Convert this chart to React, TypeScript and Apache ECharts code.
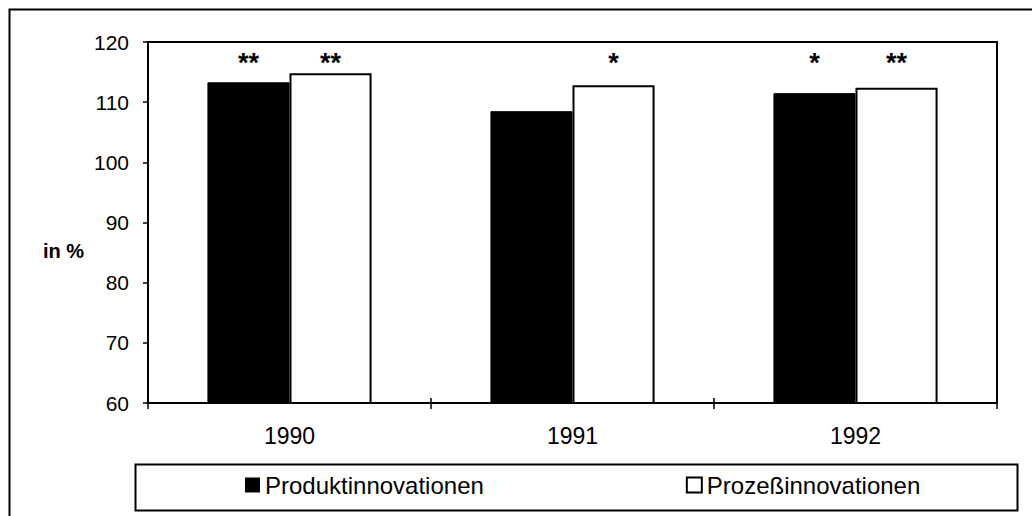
import React, { useEffect, useRef } from 'react';
import * as echarts from 'echarts';

const years = ['1990', '1991', '1992'];
const produkt = [113.3, 108.5, 111.5];
const prozess = [114.8, 112.8, 112.4];
const produktStars = ['**', '', '*'];
const prozessStars = ['**', '*', '**'];
const starLevel = 117.5;
const yMin = 60;
const yMax = 120;
const yStep = 10;
const seriesNames = ['Produktinnovationen', 'Prozeßinnovationen'];
const yUnit = 'in %';

const FONT = '"Liberation Sans", Arial, sans-serif';

function starMarks(stars: string[]) {
  return {
    symbol: 'rect',
    symbolSize: 1,
    itemStyle: { color: 'rgba(0,0,0,0)' },
    label: {
      show: true,
      position: 'inside',
      formatter: '{b}',
      color: '#000',
      fontFamily: FONT,
      fontWeight: 'bold',
      fontSize: 27,
      offset: [0, 6],
    },
    data: stars
      .map((s, i) => (s ? { name: s, coord: [years[i], starLevel] } : null))
      .filter(Boolean),
  };
}

export default function App() {
  const ref = useRef<HTMLDivElement>(null);
  useEffect(() => {
    document.body.style.margin = '0';
    const chart = echarts.init(ref.current!, null, { renderer: 'svg' });
    chart.setOption({
      animation: false,
      backgroundColor: '#fff',
      textStyle: { fontFamily: FONT },
      grid: {
        left: 148,
        right: 35,
        top: 42,
        bottom: 113,
        show: true,
        borderColor: '#000',
        borderWidth: 2,
        backgroundColor: 'transparent',
      },
      xAxis: [
        {
          type: 'category',
          data: years,
          axisLine: { lineStyle: { color: '#000', width: 2 } },
          axisTick: { show: true, length: 6, lineStyle: { color: '#000', width: 1.5 } },
          axisLabel: { color: '#000', fontSize: 23, margin: 21, fontFamily: FONT },
          splitLine: { show: false },
        },
        {
          type: 'category',
          data: years,
          position: 'bottom',
          axisLine: { show: false },
          axisTick: { show: true, inside: true, length: 5, lineStyle: { color: '#000', width: 1.5 } },
          axisLabel: { show: false },
          splitLine: { show: false },
        },
      ],
      yAxis: {
        type: 'value',
        min: yMin,
        max: yMax,
        interval: yStep,
        axisLine: { show: true, lineStyle: { color: '#000', width: 2 } },
        axisTick: { show: true, length: 5, lineStyle: { color: '#000', width: 1.5 } },
        axisLabel: { color: '#000', fontSize: 21, margin: 19, fontFamily: FONT },
        splitLine: { show: false },
      },
      legend: {
        left: 245,
        top: 473,
        padding: 0,
        itemGap: 202,
        itemWidth: 15,
        itemHeight: 15,
        icon: 'rect',
        textStyle: { color: '#000', fontSize: 24, fontFamily: FONT },
        data: [
          { name: seriesNames[0], itemStyle: { color: '#000', borderWidth: 0 } },
          { name: seriesNames[1], itemStyle: { color: '#fff', borderColor: '#000', borderWidth: 2 } },
        ],
      },
      graphic: [
        {
          type: 'rect',
          left: 7,
          top: 7,
          shape: { width: 1060, height: 540 },
          style: { fill: 'none', stroke: '#000', lineWidth: 2 },
          silent: true,
          z: -1,
        },
        {
          type: 'rect',
          left: 133,
          top: 462,
          shape: { width: 882, height: 46 },
          style: { fill: 'none', stroke: '#000', lineWidth: 2 },
          silent: true,
        },
        {
          type: 'text',
          right: 1032 - 84,
          top: 241,
          style: { text: yUnit, fontSize: 20, fontWeight: 'bold', fontFamily: FONT, fill: '#000' },
        },
      ],
      series: [
        {
          name: seriesNames[0],
          type: 'bar',
          data: produkt,
          barGap: '0%',
          barCategoryGap: '42%',
          itemStyle: { color: '#000', borderColor: '#000', borderWidth: 1 },
          markPoint: starMarks(produktStars),
        },
        {
          name: seriesNames[1],
          type: 'bar',
          data: prozess,
          barGap: '0%',
          barCategoryGap: '42%',
          itemStyle: { color: '#fff', borderColor: '#000', borderWidth: 2 },
          markPoint: starMarks(prozessStars),
        },
      ],
    });
    return () => chart.dispose();
  }, []);
  return <div ref={ref} style={{ width: 1032, height: 516 }} />;
}
